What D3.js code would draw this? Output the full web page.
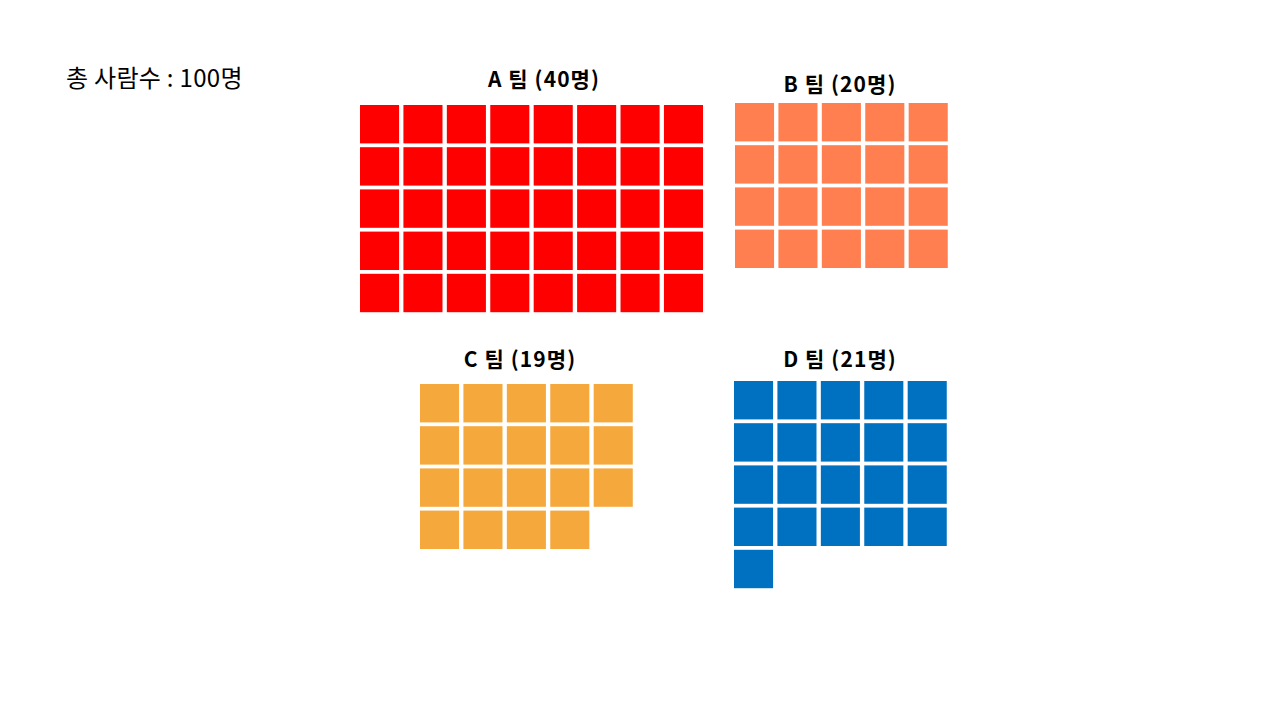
<!DOCTYPE html>
<html>
<head>
<meta charset="utf-8">
<script src="https://cdn.jsdelivr.net/npm/d3@7"></script>
<style>
  html, body { margin: 0; padding: 0; background: #fff; }
  svg { display: block; }
</style>
</head>
<body>
<svg id="chart" width="1280" height="720"></svg>
<script>
// ---- data ----
const teams = ["A", "B", "C", "D"];
const teamLabels = ["A 팀 (40명)", "B 팀 (20명)", "C 팀 (19명)", "D 팀 (21명)"];
const counts = [40, 20, 19, 21];
const columns = [8, 5, 5, 5];
const totalLabel = "총 사람수 : 100명";
const colors = ["#FF0000", "#FF7F50", "#F5A83B", "#0070C0"];

// ---- layout ----
const stepX = 43.42, stepY = 42.2, padX = 0.1, padY = 0.09;
const gridOrigin = [[360, 105], [735, 103], [420, 384], [734, 381]];
const titlePos = [[544, 87], [840, 92], [520, 367], [840, 367]];

const svg = d3.select("#chart");
svg.append("rect").attr("width", 1280).attr("height", 720).attr("fill", "#fff");

svg.append("text")
  .attr("x", 66).attr("y", 87)
  .attr("font-family", "'Noto Sans CJK KR', 'Noto Sans', sans-serif")
  .attr("font-size", 24)
  .attr("letter-spacing", 0.3)
  .attr("fill", "#000")
  .text(totalLabel);

teams.forEach((t, i) => {
  const nCols = columns[i];
  const nRows = Math.ceil(counts[i] / nCols);
  const [ox, oy] = gridOrigin[i];
  const x = d3.scaleBand().domain(d3.range(nCols))
    .range([ox, ox + nCols * stepX - stepX * padX]).paddingInner(padX).paddingOuter(0);
  const y = d3.scaleBand().domain(d3.range(nRows))
    .range([oy, oy + nRows * stepY - stepY * padY]).paddingInner(padY).paddingOuter(0);

  const g = svg.append("g").attr("class", "team-" + t);
  g.selectAll("rect")
    .data(d3.range(counts[i]))
    .join("rect")
    .attr("x", d => x(d % nCols))
    .attr("y", d => y(Math.floor(d / nCols)))
    .attr("width", x.bandwidth())
    .attr("height", y.bandwidth())
    .attr("fill", colors[i]);

  svg.append("text")
    .attr("x", titlePos[i][0]).attr("y", titlePos[i][1])
    .attr("text-anchor", "middle")
    .attr("font-family", "'Noto Sans CJK KR', 'Noto Sans', sans-serif")
    .attr("font-weight", "bold")
    .attr("font-size", 21)
    .attr("letter-spacing", 1.1)
    .attr("fill", "#000")
    .text(teamLabels[i]);
});
</script>
</body>
</html>
